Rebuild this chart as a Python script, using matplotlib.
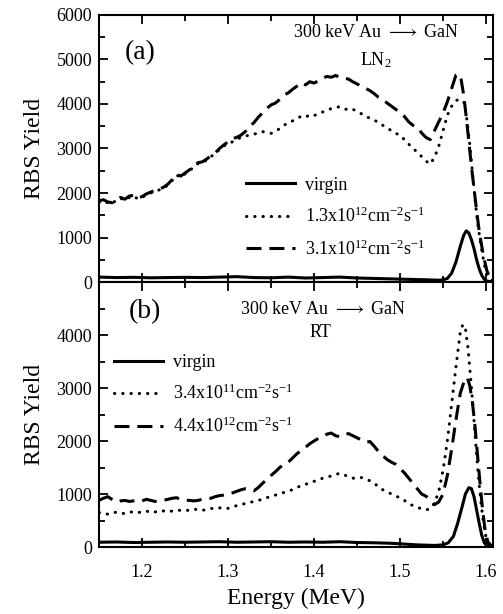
import matplotlib
matplotlib.use("Agg")
import matplotlib.pyplot as plt
from matplotlib.ticker import MultipleLocator, FixedLocator

plt.rcParams["font.family"] = ["Liberation Serif", "DejaVu Serif"]
plt.rcParams["mathtext.fontset"] = "custom"
plt.rcParams["mathtext.rm"] = "Liberation Serif"
plt.rcParams["mathtext.it"] = "Liberation Serif:italic"
plt.rcParams["mathtext.bf"] = "Liberation Serif:bold"

# ---------------- panel (a): LN2 implantation ----------------
a_virgin_E = [1.15, 1.17, 1.19, 1.21, 1.23, 1.25, 1.27, 1.29, 1.31, 1.33, 1.35, 1.37,
              1.39, 1.41, 1.43, 1.45, 1.47, 1.49, 1.51, 1.53, 1.545, 1.55, 1.555, 1.56,
              1.565, 1.57, 1.574, 1.577, 1.580, 1.583, 1.586, 1.589, 1.592, 1.595,
              1.598, 1.601, 1.605, 1.608]
a_virgin_Y = [110, 100, 105, 95, 100, 105, 100, 110, 120, 100, 95, 110,
              90, 100, 110, 90, 80, 70, 60, 50, 40, 50, 80, 200,
              450, 800, 1050, 1150, 1100, 950, 750, 500, 300, 150,
              60, 20, 10, 5]

a_low_E = [1.150, 1.155, 1.160, 1.165, 1.170, 1.175, 1.180, 1.185, 1.190, 1.195,
           1.200, 1.205, 1.210, 1.215, 1.220, 1.225, 1.230, 1.235, 1.240, 1.245,
           1.250, 1.255, 1.260, 1.265, 1.270, 1.275, 1.280, 1.285, 1.290, 1.295,
           1.300, 1.305, 1.310, 1.315, 1.320, 1.325, 1.330, 1.335, 1.340, 1.345,
           1.350, 1.355, 1.360, 1.365, 1.370, 1.375, 1.380, 1.385, 1.390, 1.395,
           1.400, 1.405, 1.410, 1.415, 1.420, 1.425, 1.430, 1.435, 1.440, 1.445,
           1.450, 1.455, 1.460, 1.465, 1.470, 1.475, 1.480, 1.485, 1.490, 1.495,
           1.500, 1.505, 1.510, 1.515, 1.520, 1.525, 1.530, 1.535, 1.540, 1.545,
           1.550, 1.555, 1.560, 1.565, 1.570, 1.575, 1.578, 1.581, 1.584, 1.587,
           1.590, 1.593, 1.596, 1.599, 1.602, 1.605, 1.608]
a_low_Y = [1790, 1820, 1780, 1760, 1840, 1880, 1840, 1900, 1930, 1870,
           1900, 1960, 2000, 2040, 2070, 2110, 2180, 2280, 2400, 2360,
           2430, 2500, 2580, 2660, 2680, 2740, 2820, 2880, 2980, 3060,
           3100, 3150, 3200, 3250, 3280, 3300, 3320, 3350, 3380, 3360,
           3340, 3380, 3450, 3520, 3580, 3620, 3680, 3720, 3700, 3760,
           3740, 3780, 3820, 3850, 3900, 3920, 3940, 3900, 3860, 3880,
           3840, 3780, 3720, 3680, 3640, 3580, 3520, 3460, 3400, 3340,
           3300, 3200, 3100, 3000, 2920, 2820, 2720, 2650, 2800, 3050,
           3400, 3750, 3950, 4080, 4100, 4020, 3600, 3100, 2500, 1900,
           1350, 950, 600, 300, 150, 60, 30]

a_high_E = [1.150, 1.155, 1.160, 1.165, 1.170, 1.175, 1.180, 1.185, 1.190, 1.195,
            1.200, 1.205, 1.210, 1.215, 1.220, 1.225, 1.230, 1.235, 1.240, 1.245,
            1.250, 1.255, 1.260, 1.265, 1.270, 1.275, 1.280, 1.285, 1.290, 1.295,
            1.300, 1.305, 1.310, 1.315, 1.320, 1.325, 1.330, 1.335, 1.340, 1.345,
            1.350, 1.355, 1.360, 1.365, 1.370, 1.375, 1.380, 1.385, 1.390, 1.395,
            1.400, 1.405, 1.410, 1.415, 1.420, 1.425, 1.430, 1.435, 1.440, 1.445,
            1.450, 1.455, 1.460, 1.465, 1.470, 1.475, 1.480, 1.485, 1.490, 1.495,
            1.500, 1.505, 1.510, 1.515, 1.520, 1.525, 1.530, 1.535, 1.540, 1.545,
            1.550, 1.555, 1.560, 1.565, 1.568, 1.571, 1.574, 1.577, 1.580, 1.583,
            1.586, 1.589, 1.592, 1.595, 1.598, 1.601, 1.604, 1.608]
a_high_Y = [1820, 1850, 1800, 1780, 1870, 1900, 1860, 1930, 1950, 1890,
            1920, 1980, 2020, 2060, 2090, 2130, 2200, 2300, 2420, 2380,
            2450, 2520, 2600, 2680, 2700, 2760, 2840, 2900, 3000, 3080,
            3150, 3220, 3250, 3300, 3380, 3500, 3580, 3700, 3800, 3900,
            3980, 4020, 4100, 4200, 4250, 4330, 4400, 4480, 4430, 4500,
            4470, 4520, 4580, 4620, 4600, 4640, 4600, 4580, 4560, 4500,
            4450, 4400, 4350, 4300, 4230, 4150, 4100, 4020, 3950, 3880,
            3800, 3720, 3600, 3520, 3480, 3350, 3250, 3200, 3400, 3600,
            3800, 4050, 4350, 4650, 4680, 4550, 4200, 3700, 3150, 2600,
            2100, 1600, 1150, 800, 500, 250, 120, 50]

# ---------------- panel (b): RT implantation ----------------
b_virgin_E = [1.15, 1.17, 1.19, 1.21, 1.23, 1.25, 1.27, 1.29, 1.31, 1.33, 1.35, 1.37,
              1.39, 1.41, 1.43, 1.45, 1.47, 1.49, 1.50, 1.52, 1.54, 1.55, 1.556,
              1.562, 1.567, 1.572, 1.576, 1.580, 1.583, 1.586, 1.589, 1.592, 1.595,
              1.598, 1.601, 1.605, 1.608]
b_virgin_Y = [90, 95, 85, 90, 95, 90, 95, 100, 90, 95, 100, 90,
              95, 90, 100, 85, 80, 70, 60, 40, 30, 40, 80,
              200, 450, 750, 1000, 1120, 1100, 950, 700, 450, 220,
              80, 20, 5, 2]

b_low_E = [1.150, 1.155, 1.160, 1.165, 1.170, 1.175, 1.180, 1.185, 1.190, 1.195,
           1.200, 1.205, 1.210, 1.215, 1.220, 1.225, 1.230, 1.235, 1.240, 1.245,
           1.250, 1.255, 1.260, 1.265, 1.270, 1.275, 1.280, 1.285, 1.290, 1.295,
           1.300, 1.305, 1.310, 1.315, 1.320, 1.325, 1.330, 1.335, 1.340, 1.345,
           1.350, 1.355, 1.360, 1.365, 1.370, 1.375, 1.380, 1.385, 1.390, 1.395,
           1.400, 1.405, 1.410, 1.415, 1.420, 1.425, 1.430, 1.435, 1.440, 1.445,
           1.450, 1.455, 1.460, 1.465, 1.470, 1.475, 1.480, 1.485, 1.490, 1.495,
           1.500, 1.505, 1.510, 1.515, 1.520, 1.525, 1.530, 1.535, 1.540, 1.545,
           1.550, 1.555, 1.560, 1.565, 1.570, 1.573, 1.576, 1.579, 1.582, 1.585,
           1.588, 1.591, 1.594, 1.597, 1.600, 1.603, 1.608]
b_low_Y = [650, 640, 620, 630, 660, 640, 630, 650, 670, 650,
           660, 680, 650, 660, 690, 680, 660, 680, 700, 690,
           680, 700, 720, 700, 690, 710, 730, 720, 740, 720,
           730, 760, 780, 800, 820, 840, 860, 880, 900, 930,
           960, 980, 1000, 1030, 1060, 1080, 1120, 1160, 1180, 1220,
           1240, 1260, 1300, 1320, 1340, 1370, 1390, 1360, 1330, 1300,
           1290, 1310, 1280, 1250, 1200, 1140, 1080, 1040, 1000, 960,
           930, 880, 820, 780, 750, 720, 700, 720, 820, 1050,
           1450, 2000, 2700, 3400, 4050, 4200, 4120, 3750, 3200, 2600,
           1950, 1350, 850, 450, 180, 60, 20]

b_high_E = [1.150, 1.155, 1.160, 1.165, 1.170, 1.175, 1.180, 1.185, 1.190, 1.195,
            1.200, 1.205, 1.210, 1.215, 1.220, 1.225, 1.230, 1.235, 1.240, 1.245,
            1.250, 1.255, 1.260, 1.265, 1.270, 1.275, 1.280, 1.285, 1.290, 1.295,
            1.300, 1.305, 1.310, 1.315, 1.320, 1.325, 1.330, 1.335, 1.340, 1.345,
            1.350, 1.355, 1.360, 1.365, 1.370, 1.375, 1.380, 1.385, 1.390, 1.395,
            1.400, 1.405, 1.410, 1.415, 1.420, 1.425, 1.430, 1.435, 1.440, 1.445,
            1.450, 1.455, 1.460, 1.465, 1.470, 1.475, 1.480, 1.485, 1.490, 1.495,
            1.500, 1.505, 1.510, 1.515, 1.520, 1.525, 1.530, 1.535, 1.540, 1.545,
            1.550, 1.555, 1.560, 1.565, 1.570, 1.575, 1.578, 1.581, 1.584, 1.587,
            1.590, 1.593, 1.596, 1.599, 1.602, 1.605, 1.608]
b_high_Y = [880, 920, 950, 900, 850, 870, 880, 860, 870, 880,
            870, 900, 880, 860, 870, 880, 900, 920, 930, 900,
            880, 880, 870, 880, 900, 920, 920, 950, 970, 980,
            1000, 1020, 1050, 1080, 1100, 1090, 1060, 1120, 1200, 1280,
            1350, 1420, 1500, 1560, 1600, 1680, 1760, 1820, 1880, 1950,
            2000, 2050, 2080, 2130, 2150, 2100, 2080, 2120, 2140, 2100,
            2060, 2020, 1980, 1990, 1900, 1800, 1720, 1650, 1600, 1560,
            1480, 1400, 1300, 1200, 1100, 1000, 960, 900, 800, 850,
            1000, 1350, 1850, 2400, 2900, 3150, 3200, 3050, 2750, 2300,
            1750, 1200, 700, 300, 100, 40, 20]

a_labels = ["virgin",
            "1.3x10$^{12}$cm$^{-2}$s$^{-1}$",
            "3.1x10$^{12}$cm$^{-2}$s$^{-1}$"]
b_labels = ["virgin",
            "3.4x10$^{11}$cm$^{-2}$s$^{-1}$",
            "4.4x10$^{12}$cm$^{-2}$s$^{-1}$"]

a_yticks = [0, 1000, 2000, 3000, 4000, 5000, 6000]
b_yticks = [0, 1000, 2000, 3000, 4000]
x_ticks = [1.2, 1.3, 1.4, 1.5, 1.6]

LW = 2.2
DOT = (0, (0.1, 2.6))
DASH = (0, (4.9, 2.6))

fig = plt.figure(figsize=(5.03, 6.14), dpi=100)
ax_a = fig.add_axes([0.197, 0.5407, 0.783, 0.4349])
ax_b = fig.add_axes([0.197, 0.1091, 0.783, 0.4316], sharex=ax_a)


def draw(ax, virgin, low, high, labels):
    ax.plot(*virgin, color="black", lw=LW, ls="-", label=labels[0])
    ax.plot(*low, color="black", lw=LW, ls=DOT, dash_capstyle="round", label=labels[1])
    ax.plot(*high, color="black", lw=LW, ls=DASH, label=labels[2])


draw(ax_a, (a_virgin_E, a_virgin_Y), (a_low_E, a_low_Y), (a_high_E, a_high_Y), a_labels)
draw(ax_b, (b_virgin_E, b_virgin_Y), (b_low_E, b_low_Y), (b_high_E, b_high_Y), b_labels)

for ax in (ax_a, ax_b):
    for s in ax.spines.values():
        s.set_linewidth(1.5)
    ax.tick_params(which="both", direction="in", top=True, right=True,
                   labelsize=13, width=1.3)
    ax.tick_params(which="major", length=6.5, pad=5)
    ax.tick_params(which="minor", length=4)
    ax.tick_params(axis="x", which="major", pad=12)
    ax.yaxis.set_minor_locator(MultipleLocator(500))
    ax.set_ylabel("RBS Yield", fontsize=17, labelpad=8)

ax_a.set_xlim(1.15, 1.608)
ax_a.xaxis.set_major_locator(FixedLocator(x_ticks))
ax_a.xaxis.set_minor_locator(MultipleLocator(0.05))
ax_a.tick_params(axis="x", labelbottom=False)

ax_a.set_ylim(0, 6000)
ax_a.yaxis.set_major_locator(FixedLocator(a_yticks))
ax_b.set_ylim(0, 5000)
ax_b.yaxis.set_major_locator(FixedLocator(b_yticks))
ax_b.set_xlabel("Energy (MeV)", fontsize=17, labelpad=5)

# annotations
ax_a.text(0.703, 0.935, "300 keV Au $\\longrightarrow$ GaN", transform=ax_a.transAxes,
          ha="center", va="center", fontsize=13)
ax_a.text(0.703, 0.83, "LN$_2$", transform=ax_a.transAxes,
          ha="center", va="center", fontsize=13)
ax_a.text(0.104, 0.86, "(a)", transform=ax_a.transAxes,
          ha="center", va="center", fontsize=20)

ax_b.text(0.568, 0.898, "300 keV Au $\\longrightarrow$ GaN", transform=ax_b.transAxes,
          ha="center", va="center", fontsize=13)
ax_b.text(0.561, 0.808, "RT", transform=ax_b.transAxes,
          ha="center", va="center", fontsize=13)
ax_b.text(0.117, 0.89, "(b)", transform=ax_b.transAxes,
          ha="center", va="center", fontsize=20)

leg_kw = dict(frameon=False, fontsize=13, handlelength=2.7, handletextpad=0.55,
              labelspacing=0.72, borderpad=0, borderaxespad=0, loc="upper left")
ax_a.legend(bbox_to_anchor=(0.373, 0.394), **leg_kw)
ax_b.legend(bbox_to_anchor=(0.038, 0.728), **leg_kw)

fig.savefig("out.png", dpi=100)
